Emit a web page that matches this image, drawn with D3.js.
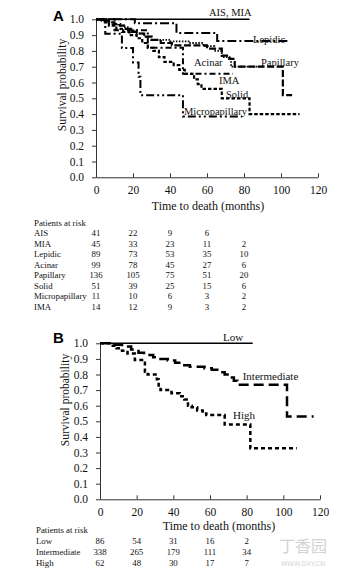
<!DOCTYPE html>
<html><head><meta charset="utf-8">
<script src="https://cdn.jsdelivr.net/npm/d3@7"></script>
<style>
html,body{margin:0;padding:0;background:#fff;}
svg{display:block;}
</style></head>
<body>
<svg id="chart" width="347" height="580"></svg>
<script>
// ---------- DATA ----------
const xTicks = [0, 20, 40, 60, 80, 100, 120];
const yTicks = [0, 0.1, 0.2, 0.3, 0.4, 0.5, 0.6, 0.7, 0.8, 0.9, 1.0];

// Panel A series (step points: time in months, survival probability)
const aisMiaTime = [0, 83];
const aisMiaSurv = [1, 1];
const lepidicTime = [0, 21, 43.5, 65.5, 105];
const lepidicSurv = [1, 0.975, 0.913, 0.863, 0.863];
const acinarTime = [0, 3, 6, 9, 12, 15, 18, 22, 26, 30, 40, 50, 58, 64, 68, 73, 90];
const acinarSurv = [1, 0.99, 0.98, 0.97, 0.96, 0.95, 0.93, 0.91, 0.89, 0.87, 0.86, 0.85, 0.83, 0.80, 0.76, 0.70, 0.70];
const papillaryTime = [0, 4, 7, 10, 13, 16, 19, 22, 26, 30, 35, 41, 60, 68, 72, 75, 101, 106];
const papillarySurv = [1, 0.99, 0.98, 0.97, 0.96, 0.94, 0.92, 0.91, 0.89, 0.87, 0.85, 0.835, 0.814, 0.77, 0.75, 0.70, 0.52, 0.52];
const solidTime = [0, 4, 7, 11, 14, 18, 22, 25, 28, 31, 34, 37, 42, 45, 48, 53, 55, 57, 68, 83, 110];
const solidSurv = [1, 0.98, 0.96, 0.94, 0.92, 0.90, 0.88, 0.85, 0.82, 0.80, 0.76, 0.73, 0.71, 0.68, 0.655, 0.62, 0.59, 0.56, 0.50, 0.40, 0.40];
const microTime = [0, 5, 14, 20, 23, 24, 47, 79];
const microSurv = [1, 0.909, 0.818, 0.727, 0.636, 0.52, 0.385, 0.385];
const imaTime = [0, 10, 28, 47, 74];
const imaSurv = [1, 0.93, 0.82, 0.655, 0.655];

// Panel B series
const lowTime = [0, 83.3];
const lowSurv = [1, 1];
const interTime = [0, 8, 12, 17, 21, 24, 29, 33, 37, 41, 46, 49, 57, 61, 65, 68, 71, 73, 75, 102, 116.5];
const interSurv = [1, 0.99, 0.98, 0.96, 0.94, 0.925, 0.91, 0.90, 0.89, 0.875, 0.86, 0.85, 0.84, 0.83, 0.815, 0.80, 0.78, 0.76, 0.735, 0.53, 0.53];
const highTime = [0, 6, 9, 12, 15, 19, 24.5, 26, 31, 32, 33, 39, 43.5, 46, 48, 50, 53, 56, 58, 68, 82, 107.3];
const highSurv = [1, 0.984, 0.968, 0.952, 0.935, 0.893, 0.818, 0.80, 0.77, 0.73, 0.70, 0.68, 0.66, 0.64, 0.60, 0.59, 0.57, 0.55, 0.54, 0.48, 0.327, 0.327];

// Risk tables
const riskTimes = [0, 20, 40, 60, 80];
const riskAIS = [41, 22, 9, 6, null];
const riskMIA = [45, 33, 23, 11, 2];
const riskLepidic = [89, 73, 53, 35, 10];
const riskAcinar = [99, 78, 45, 27, 6];
const riskPapillary = [136, 105, 75, 51, 20];
const riskSolid = [51, 39, 25, 15, 6];
const riskMicro = [11, 10, 6, 3, 2];
const riskIMA = [14, 12, 9, 3, 2];
const riskLow = [86, 54, 31, 16, 2];
const riskInter = [338, 265, 179, 111, 34];
const riskHigh = [62, 48, 30, 17, 7];

// ---------- DRAW ----------
const SERIF = '"Liberation Serif","Times New Roman",serif';
const svg = d3.select("#chart");
svg.append("rect").attr("width", 347).attr("height", 580).attr("fill", "#fff");

function zip(t, s) { return t.map((v, i) => [v, s[i]]); }
function txt(sel, fs) { return sel.style("font-family", SERIF).style("font-size", fs + "px").style("fill", "#111"); }

function panel(cfg) {
  const g = svg.append("g");
  const x = d3.scaleLinear().domain([0, 120]).range(cfg.xr);
  const y = d3.scaleLinear().domain([0, 1]).range(cfg.yr);

  const yAxis = d3.axisLeft(y).tickValues(yTicks).tickFormat(d3.format(".1f"))
    .tickSizeInner(4).tickSizeOuter(0).tickPadding(8);
  const ya = g.append("g").attr("transform", `translate(${cfg.xr[0]},0)`).call(yAxis);
  const xAxis = d3.axisBottom(x).tickValues(xTicks).tickFormat(d3.format("d"))
    .tickSizeInner(-4).tickSizeOuter(0).tickPadding(9);
  const xa = g.append("g").attr("transform", `translate(0,${cfg.yr[0]})`).call(xAxis);
  [ya, xa].forEach(a => {
    a.selectAll("path,line").attr("stroke", "#333").attr("stroke-width", 1);
    txt(a.selectAll("text"), 11.5);
  });

  txt(g.append("text").attr("transform", `translate(${cfg.ylx},${cfg.yly}) rotate(-90)`)
    .attr("text-anchor", "middle").attr("dominant-baseline", "central")
    .text("Survival probability"), 11.5);
  txt(g.append("text").attr("x", cfg.xtx).attr("y", cfg.xty).attr("text-anchor", "middle")
    .text("Time to death (months)"), 12);

  g.append("text").attr("x", 53).attr("y", cfg.letterY)
    .style("font-family", '"Liberation Sans",Arial,sans-serif').style("font-weight", "bold")
    .style("font-size", "15px").style("fill", "#000").text(cfg.letter);

  const line = d3.line().x(d => x(d[0])).y(d => y(d[1])).curve(d3.curveStepAfter);
  cfg.series.forEach(s => {
    g.append("path").datum(zip(s.t, s.s)).attr("d", line)
      .attr("fill", "none").attr("stroke", "#000")
      .attr("stroke-width", s.w).attr("stroke-dasharray", s.dash || null);
  });
  cfg.labels.forEach(l => {
    txt(g.append("text").attr("x", l.x).attr("y", l.y).text(l.text), l.fs);
  });

  // risk table
  const tb = g.append("g");
  const fsT = 8.8;
  txt(tb.append("text").attr("x", cfg.tx).attr("y", cfg.ty0).text("Patients at risk"), fsT);
  cfg.rows.forEach((r, i) => {
    const yy = cfg.ty0 + cfg.tdy * (i + 1);
    txt(tb.append("text").attr("x", cfg.tx).attr("y", yy).text(r.name), fsT);
    r.vals.forEach((v, j) => {
      if (v === null) return;
      txt(tb.append("text").attr("x", x(riskTimes[j])).attr("y", yy)
        .attr("text-anchor", "middle").text(v), fsT);
    });
  });
}

panel({
  letter: "A", letterY: 20.7,
  xr: [96, 318], yr: [177.3, 19.3],
  ylx: 62, yly: 85, xtx: 208, xty: 210,
  series: [
    { t: aisMiaTime, s: aisMiaSurv, w: 1.5 },
    { t: lepidicTime, s: lepidicSurv, w: 2, dash: "9,3,2,3" },
    { t: acinarTime, s: acinarSurv, w: 1.8, dash: "1.5,1.5" },
    { t: papillaryTime, s: papillarySurv, w: 2.2, dash: "7,2.5" },
    { t: solidTime, s: solidSurv, w: 2.2, dash: "3.5,2" },
    { t: microTime, s: microSurv, w: 2, dash: "8,3,2,3,2,3" },
    { t: imaTime, s: imaSurv, w: 2, dash: "6,3,2,3" }
  ],
  labels: [
    { text: "AIS, MIA", x: 209, y: 15.8, fs: 10.5 },
    { text: "Lepidic", x: 253, y: 42.8, fs: 10.5 },
    { text: "Acinar", x: 194, y: 65.8, fs: 10.5 },
    { text: "Papillary", x: 261, y: 65.8, fs: 10.5 },
    { text: "IMA", x: 219, y: 84.2, fs: 10.5 },
    { text: "Solid", x: 226, y: 97.8, fs: 10.5 },
    { text: "Micropapillary", x: 184, y: 115.2, fs: 10.5 }
  ],
  tx: 34, ty0: 226, tdy: 10.48,
  rows: [
    { name: "AIS", vals: riskAIS }, { name: "MIA", vals: riskMIA },
    { name: "Lepidic", vals: riskLepidic }, { name: "Acinar", vals: riskAcinar },
    { name: "Papillary", vals: riskPapillary }, { name: "Solid", vals: riskSolid },
    { name: "Micropapillary", vals: riskMicro }, { name: "IMA", vals: riskIMA }
  ]
});

panel({
  letter: "B", letterY: 342.7,
  xr: [100, 320], yr: [499.3, 343.3],
  ylx: 65, yly: 400, xtx: 219, xty: 529.7,
  series: [
    { t: lowTime, s: lowSurv, w: 1.5 },
    { t: interTime, s: interSurv, w: 2.5, dash: "10,5" },
    { t: highTime, s: highSurv, w: 2.5, dash: "4,3" }
  ],
  labels: [
    { text: "Low", x: 223, y: 340.6, fs: 11 },
    { text: "Intermediate", x: 242.7, y: 379.6, fs: 11 },
    { text: "High", x: 233, y: 418.9, fs: 11 }
  ],
  tx: 36, ty0: 533.3, tdy: 10.8,
  rows: [
    { name: "Low", vals: riskLow }, { name: "Intermediate", vals: riskInter },
    { name: "High", vals: riskHigh }
  ]
});

// watermark
svg.append("text").attr("x", 303).attr("y", 552).attr("text-anchor", "middle")
  .style("font-family", '"Noto Sans CJK SC",sans-serif').style("font-size", "16px")
  .style("fill", "#d4d4d4").text("丁香园");
svg.append("text").attr("x", 303).attr("y", 566).attr("text-anchor", "middle")
  .style("font-family", '"DejaVu Sans",sans-serif').style("font-size", "6.5px")
  .style("fill", "#d4d4d4").text("WWW.DXY.CN");
</script>
</body></html>
